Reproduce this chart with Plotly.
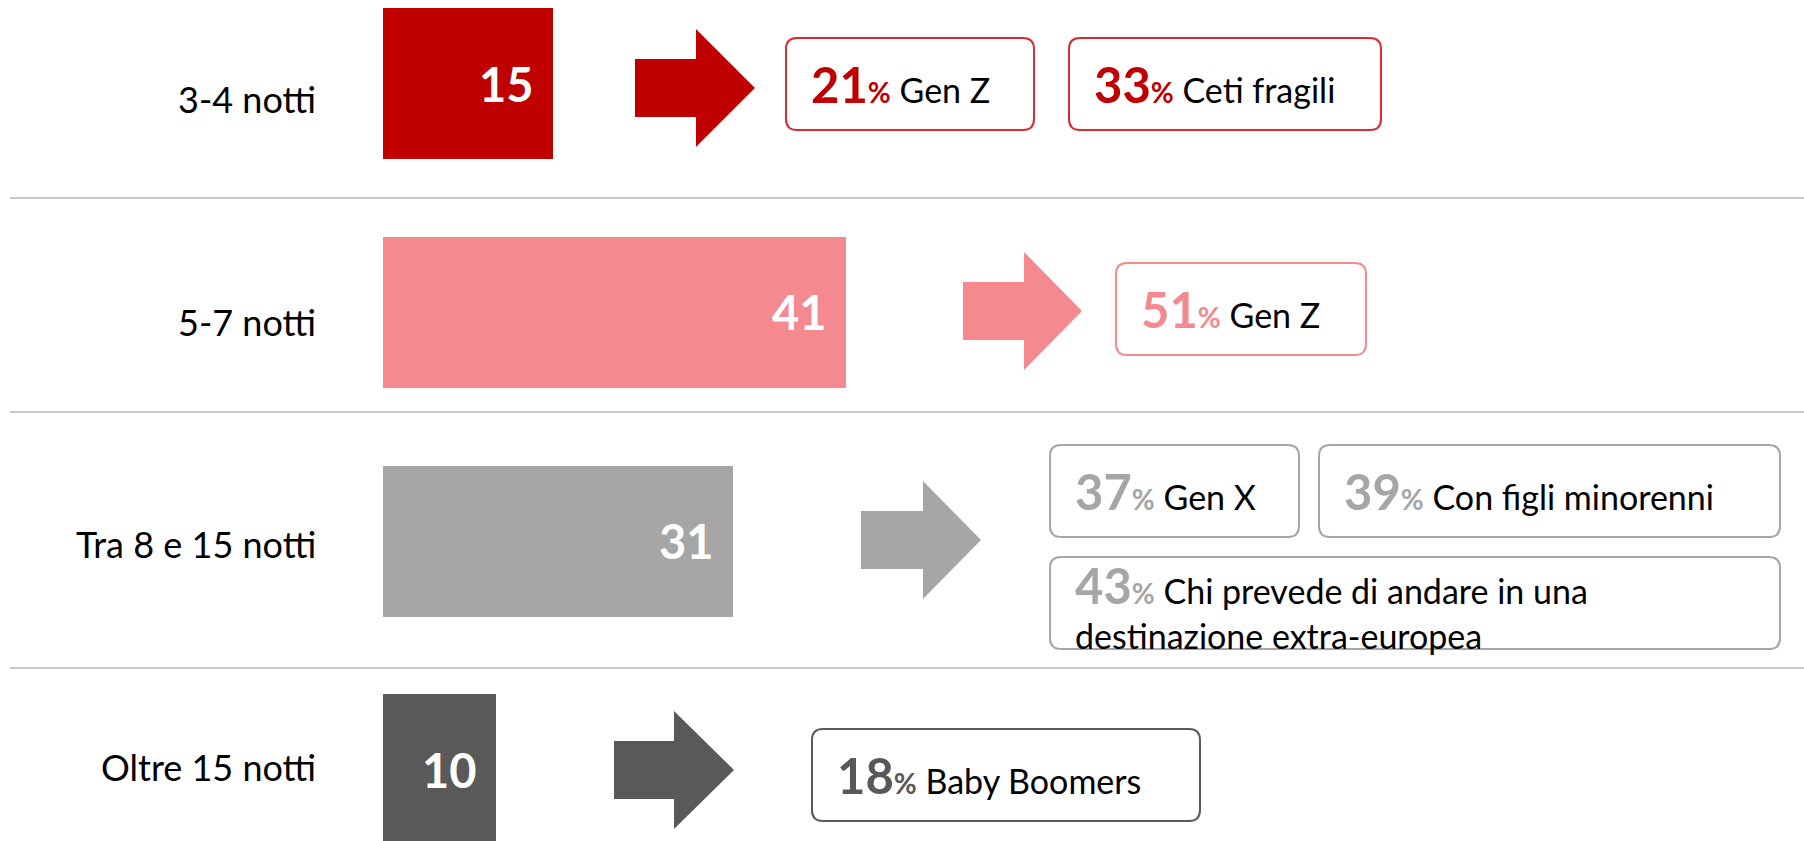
import plotly.graph_objects as go

# ---------------- data ----------------
categories = ["3-4 notti", "5-7 notti", "Tra 8 e 15 notti", "Oltre 15 notti"]
values = [15, 41, 31, 10]
callout_pct = [[21, 33], [51], [37, 39, 43], [18]]
callout_text = [
    ["Gen Z", "Ceti fragili"],
    ["Gen Z"],
    ["Gen X", "Con figli minorenni", "Chi prevede di andare in una\ndestinazione extra-europea"],
    ["Baby Boomers"],
]

# ---------------- styles / layout ----------------
bar_colors = ["#C00000", "#F48A90", "#A6A6A6", "#595959"]
border_colors = ["#D92B32", "#F48A90", "#A6A6A6", "#595959"]
FONT = "Lato, 'Open Sans', sans-serif"

W, H = 1804, 841
X0, XS = 383, 11.3      # pixel of value 0, px per unit
Y0, YS = 83.5, 228.8    # pixel centre of first row, px per row

label_shift = [-15, -10, -3, 3]
arrow_geom = [(635, 696, 755, 88), (963, 1024, 1082, 311), (861, 923, 981, 540), (614, 674, 734, 770)]
box_geom = [
    [(786, 38, 1034, 130), (1069, 38, 1381, 130)],
    [(1116, 263, 1366, 355)],
    [(1050, 445, 1299, 537), (1319, 445, 1780, 537), (1050, 557, 1780, 649)],
    [(812, 729, 1200, 821)],
]
sep_y = [198, 412, 668]


def px(x):
    return x / W


def py(y):
    return 1 - y / H


fig = go.Figure()
fig.add_trace(go.Bar(
    x=values, y=list(range(len(categories))), orientation="h",
    marker=dict(color=bar_colors, line_width=0), width=0.66,
    hoverinfo="skip", showlegend=False,
))

annotations = []
shapes = []

for i, (cat, v) in enumerate(zip(categories, values)):
    # value inside bar
    annotations.append(dict(
        x=v, y=i, xref="x", yref="y", xanchor="right", yanchor="middle", xshift=-17,
        text=f"<b>{v}</b>", showarrow=False,
        font=dict(family=FONT, size=47, color="white"),
    ))
    # category label
    annotations.append(dict(
        x=px(318), y=i, xref="paper", yref="y", xanchor="right", yanchor="middle",
        yshift=label_shift[i], text=cat, showarrow=False,
        font=dict(family=FONT, size=36, color="black"),
    ))
    # arrow
    sl, hb, tip, cy = arrow_geom[i]
    sh, hh = 29, 59
    pts = [(sl, cy - sh), (hb, cy - sh), (hb, cy - hh), (tip, cy), (hb, cy + hh), (hb, cy + sh), (sl, cy + sh)]
    path = "M " + " L ".join(f"{px(x):.5f},{py(y):.5f}" for x, y in pts) + " Z"
    shapes.append(dict(type="path", xref="paper", yref="paper", path=path,
                       fillcolor=bar_colors[i], line=dict(width=0), layer="above"))
    # callout boxes
    for j, (L, T, R, B) in enumerate(box_geom[i]):
        r = 11
        p = (f"M {px(L + r):.5f},{py(T):.5f} L {px(R - r):.5f},{py(T):.5f} "
             f"Q {px(R):.5f},{py(T):.5f} {px(R):.5f},{py(T + r):.5f} "
             f"L {px(R):.5f},{py(B - r):.5f} Q {px(R):.5f},{py(B):.5f} {px(R - r):.5f},{py(B):.5f} "
             f"L {px(L + r):.5f},{py(B):.5f} Q {px(L):.5f},{py(B):.5f} {px(L):.5f},{py(B - r):.5f} "
             f"L {px(L):.5f},{py(T + r):.5f} Q {px(L):.5f},{py(T):.5f} {px(L + r):.5f},{py(T):.5f} Z")
        shapes.append(dict(type="path", xref="paper", yref="paper", path=p,
                           fillcolor="white", line=dict(color=border_colors[i], width=2), layer="above"))
        pct = callout_pct[i][j]
        lines = callout_text[i][j].split("\n")
        c = bar_colors[i]
        first = (f"<b><span style='color:{c};font-size:49px'>{pct}</span></b>"
                 f"<span style='color:{c};font-size:28px'><b>%</b></span> {lines[0]}")
        if len(lines) == 1:
            annotations.append(dict(
                x=px(L + 23), y=py((T + B) / 2), xref="paper", yref="paper",
                xanchor="left", yanchor="middle", text=first, showarrow=False,
                font=dict(family=FONT, size=34, color="black"),
            ))
        else:
            annotations.append(dict(
                x=px(L + 23), y=py(T + 28), xref="paper", yref="paper",
                xanchor="left", yanchor="middle", text=first, showarrow=False,
                font=dict(family=FONT, size=34, color="black"),
            ))
            annotations.append(dict(
                x=px(L + 23), y=py(T + 78), xref="paper", yref="paper",
                xanchor="left", yanchor="middle", text=lines[1], showarrow=False,
                font=dict(family=FONT, size=34, color="black"),
            ))

for y in sep_y:
    shapes.append(dict(type="line", xref="paper", yref="paper", x0=px(10), x1=1,
                       y0=py(y), y1=py(y), line=dict(color="#B4B4B4", width=1.5)))

fig.update_layout(
    width=W, height=H, margin=dict(l=0, r=0, t=0, b=0),
    paper_bgcolor="white", plot_bgcolor="white", showlegend=False,
    xaxis=dict(range=[-X0 / XS, (W - X0) / XS], visible=False, fixedrange=True),
    yaxis=dict(range=[(H - Y0) / YS, -Y0 / YS], visible=False, fixedrange=True),
    annotations=annotations, shapes=shapes, bargap=0,
)

fig.write_html(
    "out.html",
    config={"displayModeBar": False},
    post_script="document.body.style.margin='0px';document.body.style.overflow='hidden';",
)
